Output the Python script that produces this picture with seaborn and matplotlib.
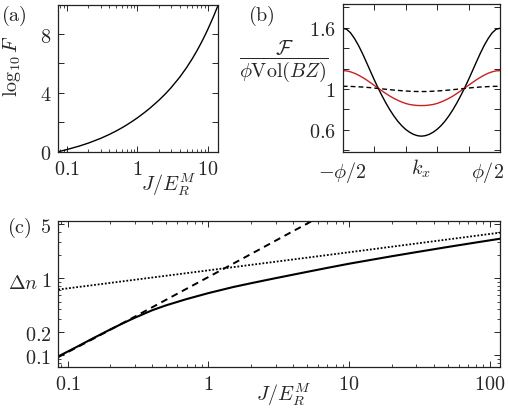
import matplotlib
matplotlib.use("Agg")
import matplotlib.pyplot as plt
import matplotlib.ticker as mticker
import matplotlib.transforms as mtransforms
import seaborn as sns

# Panel (a): log10 F against J/E_R^M
a_J = [0.0753, 0.1, 0.15, 0.2, 0.3, 0.4, 0.5, 0.6, 0.7, 0.85, 1.0, 1.25, 1.5, 2.0, 2.5,
       3.0, 4.0, 5.0, 6.0, 7.0, 8.0, 9.0, 10.0, 12.0, 14.0]
a_logF = [0.0, 0.147, 0.386, 0.582, 0.906, 1.177, 1.414, 1.624, 1.816, 2.076, 2.309, 2.656,
          2.960, 3.488, 3.946, 4.358, 5.089, 5.741, 6.333, 6.884, 7.400, 7.888, 8.350,
          9.209, 10.0]

# Panel (b): F / (phi Vol(BZ)) across the zone, k_x in units of phi
b_k = [-0.5, -0.475, -0.45, -0.425, -0.4, -0.375, -0.35, -0.325, -0.3, -0.275, -0.25,
       -0.225, -0.2, -0.175, -0.15, -0.125, -0.1, -0.075, -0.05, -0.025, 0.0,
       0.025, 0.05, 0.075, 0.1, 0.125, 0.15, 0.175, 0.2, 0.225, 0.25,
       0.275, 0.3, 0.325, 0.35, 0.375, 0.4, 0.425, 0.45, 0.475, 0.5]
b_black = [1.595, 1.585, 1.550, 1.495, 1.428, 1.350, 1.265, 1.178, 1.092, 1.010, 0.933,
           0.861, 0.795, 0.736, 0.684, 0.640, 0.604, 0.576, 0.555, 0.542, 0.537,
           0.542, 0.555, 0.576, 0.604, 0.640, 0.684, 0.736, 0.795, 0.861, 0.933,
           1.010, 1.092, 1.178, 1.265, 1.350, 1.428, 1.495, 1.550, 1.585, 1.595]
b_red = [1.180, 1.177, 1.168, 1.154, 1.136, 1.114, 1.090, 1.063, 1.036, 1.008, 0.981,
         0.955, 0.930, 0.908, 0.889, 0.872, 0.858, 0.848, 0.842, 0.838, 0.837,
         0.838, 0.842, 0.848, 0.858, 0.872, 0.889, 0.908, 0.930, 0.955, 0.981,
         1.008, 1.036, 1.063, 1.090, 1.114, 1.136, 1.154, 1.168, 1.177, 1.180]
b_dash = [1.026, 1.026, 1.025, 1.023, 1.021, 1.019, 1.016, 1.013, 1.009, 1.005, 1.001,
          0.997, 0.993, 0.989, 0.986, 0.983, 0.980, 0.978, 0.976, 0.975, 0.975,
          0.975, 0.976, 0.978, 0.980, 0.983, 0.986, 0.989, 0.993, 0.997, 1.001,
          1.005, 1.009, 1.013, 1.016, 1.019, 1.021, 1.023, 1.025, 1.026, 1.026]

# Panel (c): Delta n against J/E_R^M
c_J_solid = [0.0858, 0.1, 0.12, 0.15, 0.2, 0.25, 0.3, 0.4, 0.5, 0.7, 1.0, 1.5, 2.0, 3.0,
             5.0, 7.0, 10.0, 20.0, 30.0, 50.0, 80.0, 122.0]
c_dn_solid = [0.097, 0.112, 0.133, 0.165, 0.216, 0.264, 0.308, 0.386, 0.446, 0.538, 0.643,
              0.771, 0.863, 1.005, 1.211, 1.367, 1.549, 1.933, 2.188, 2.551, 2.923, 3.297]
c_J_dash = [0.0858, 0.15, 0.3, 0.6, 1.0, 2.0, 4.0, 6.5]
c_dn_dash = [0.095, 0.162, 0.318, 0.63, 1.04, 2.06, 4.1, 6.6]
c_J_dot = [0.0858, 1.0, 10.0, 122.0]
c_dn_dot = [0.715, 1.27, 2.18, 3.95]

FS = 14.5

sns.set_style("ticks")
plt.rcParams.update({
    "mathtext.fontset": "cm",
    "font.family": ["DejaVu Serif"],
    "font.size": FS,
    "xtick.direction": "in",
    "ytick.direction": "in",
    "xtick.top": True,
    "ytick.right": True,
    "xtick.major.size": 4,
    "ytick.major.size": 4,
    "xtick.minor.size": 2,
    "ytick.minor.size": 2,
    "xtick.major.width": 0.7,
    "ytick.major.width": 0.7,
    "xtick.minor.width": 0.6,
    "ytick.minor.width": 0.6,
    "axes.linewidth": 0.9,
    "axes.edgecolor": "#222222",
    "xtick.labelsize": FS,
    "ytick.labelsize": FS,
})

W, H = 508, 414
fig = plt.figure(figsize=(W / 100, H / 100), dpi=100)


def box(l, r, t, b):
    return [l / W, 1 - b / H, (r - l) / W, (b - t) / H]


ax_a = fig.add_axes(box(58.3, 218.3, 5.7, 152.7))
ax_b = fig.add_axes(box(342.7, 500, 5, 153))
ax_c = fig.add_axes(box(58.3, 500, 221.7, 368.3))

# (a)
sns.lineplot(x=a_J, y=a_logF, ax=ax_a, color="black", lw=1.0, sort=False)
ax_a.set_xscale("log")
ax_a.set_xlim(0.0753, 14.0)
ax_a.set_ylim(0, 10)
ax_a.set_xticks([0.1, 1, 10])
ax_a.set_xticklabels([r"$0.1$", r"$1$", r"$10$"])
ax_a.xaxis.set_minor_locator(mticker.LogLocator(subs=range(2, 10)))
ax_a.xaxis.set_minor_formatter(mticker.NullFormatter())
ax_a.set_yticks([0, 2, 4, 6, 8, 10])
ax_a.set_yticklabels([r"$0$", "", r"$4$", "", r"$8$", ""])
ax_a.tick_params(axis="both", which="major", pad=5)
ax_a.set_xlabel(r"$J/E_R^M$", fontsize=FS)
ax_a.xaxis.set_label_coords(0.69, -0.13)
ax_a.set_ylabel(r"$\log_{10}F$", fontsize=FS)
ax_a.yaxis.set_label_coords(-0.22, 0.59)

# (b)
sns.lineplot(x=b_k, y=b_black, ax=ax_b, color="black", lw=1.0, sort=False)
sns.lineplot(x=b_k, y=b_red, ax=ax_b, color="#cc1f1f", lw=1.0, sort=False)
sns.lineplot(x=b_k, y=b_dash, ax=ax_b, color="black", lw=1.0, sort=False,
             linestyle=(0, (3.5, 2.2)))
ax_b.set_xlim(-0.5, 0.5)
ax_b.set_ylim(0.382, 1.833)
ax_b.set_xticks([-0.5, -0.3, -0.1, 0.1, 0.3, 0.5])
ax_b.set_xticklabels([r"$-\phi/2$", "", "", "", "", r"$\phi/2$"])
ax_b.set_yticks([0.4, 0.6, 0.8, 1.0, 1.2, 1.4, 1.6, 1.8])
ax_b.set_yticklabels(["", r"$0.6$", "", r"$1$", "", "", r"$1.6$", ""])
ax_b.tick_params(axis="both", which="major", pad=5)
# shift the right-hand label so it stays inside the figure
shift = mtransforms.ScaledTranslation(-12 / 100, 0, fig.dpi_scale_trans)
last = ax_b.get_xticklabels()[-1]
last.set_transform(last.get_transform() + shift)
ax_b.set_xlabel(r"$k_x$", fontsize=FS)
ax_b.xaxis.set_label_coords(0.5, -0.03)
ax_b.text(-0.375, 0.62, r"$\dfrac{\mathcal{F}}{\phi\mathrm{Vol}(BZ)}$",
          transform=ax_b.transAxes, ha="center", va="center", fontsize=FS)

# (c)
sns.lineplot(x=c_J_solid, y=c_dn_solid, ax=ax_c, color="black", lw=1.5, sort=False)
sns.lineplot(x=c_J_dash, y=c_dn_dash, ax=ax_c, color="black", lw=1.4, sort=False,
             linestyle=(0, (3.5, 2.5)))
sns.lineplot(x=c_J_dot, y=c_dn_dot, ax=ax_c, color="black", lw=1.3, sort=False,
             linestyle=(0, (1, 1)))
ax_c.set_xscale("log")
ax_c.set_yscale("log")
ax_c.set_xlim(0.0858, 118)
ax_c.set_ylim(0.07, 5.6)
ax_c.set_xticks([0.1, 1, 10, 100])
ax_c.set_xticklabels([r"$0.1$", r"$1$", r"$10$", r"$100$"])
ax_c.xaxis.set_minor_locator(mticker.LogLocator(subs=range(2, 10)))
ax_c.xaxis.set_minor_formatter(mticker.NullFormatter())
ax_c.set_yticks([0.1, 0.2, 1, 5])
ax_c.set_yticklabels([r"$0.1$", r"$0.2$", r"$1$", r"$5$"])
ax_c.yaxis.set_minor_locator(mticker.LogLocator(subs=range(2, 10)))
ax_c.yaxis.set_minor_formatter(mticker.NullFormatter())
ax_c.tick_params(axis="both", which="major", pad=5)
ax_c.set_xlabel(r"$J/E_R^M$", fontsize=FS)
ax_c.xaxis.set_label_coords(0.51, -0.09)
ax_c.set_ylabel("")
ax_c.text(-0.08, 0.576, r"$\Delta n$", transform=ax_c.transAxes,
          ha="center", va="center", fontsize=FS)

for ax in (ax_a, ax_b, ax_c):
    for s in ax.spines.values():
        s.set_visible(True)

fig.text(14 / W, 1 - 16 / H, r"$\mathrm{(a)}$", ha="center", va="center", fontsize=FS)
fig.text(261 / W, 1 - 16 / H, r"$\mathrm{(b)}$", ha="center", va="center", fontsize=FS)
fig.text(19 / W, 1 - 228 / H, r"$\mathrm{(c)}$", ha="center", va="center", fontsize=FS)

fig.savefig("out.png", dpi=100)
